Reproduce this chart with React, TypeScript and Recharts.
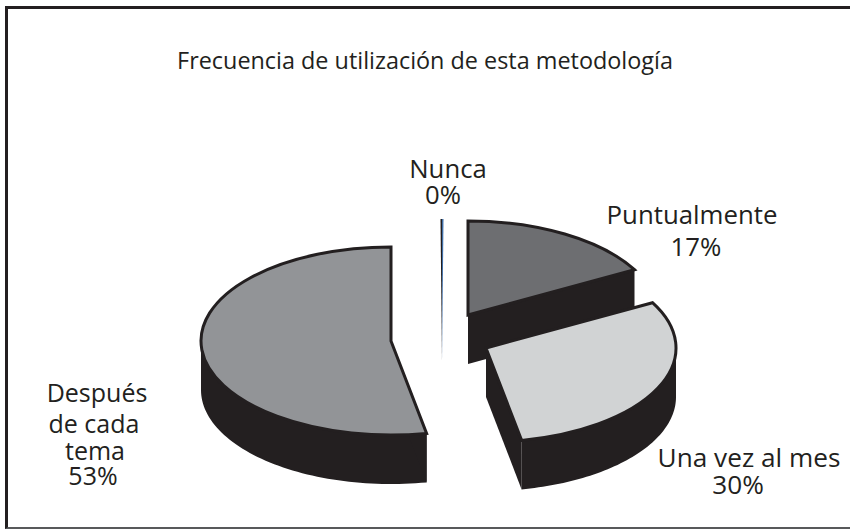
import { Cell, Pie, PieChart } from "recharts";

const categories = ["Puntualmente", "Una vez al mes", "Después de cada tema", "Nunca"];
const values = [17, 30, 53, 0];
const labelLines = [["Puntualmente"], ["Una vez al mes"], ["Después", "de cada", "tema"], ["Nunca"]];
const fills = ["#6d6e71", "#d1d3d4", "#929497", "#231f20"];

const data = categories.map((name, i) => ({ name, value: values[i] }));

const DARK = "#231f20";
const SLIVER_BLUE = "#3f6fa8";
const FONT = '"Open Sans", sans-serif';
const SQUASH = 0.495; // ellipse height / width
const DEPTH = 49;

// how far each slice is pulled out of the pie
const EXPLODE = [
  { dx: 28, dy: -15 },
  { dx: 46, dy: 18 },
  { dx: -49, dy: 11 },
  { dx: 2, dy: -17 },
];
// label block placement, one entry per line, the percent line comes last
const LABEL_POS = [
  { x: [692, 696], y: [224, 256], size: 25.8 },
  { x: [749, 738], y: [467, 494], size: 26.2 },
  { x: [97, 94, 95, 93], y: [402, 433, 460, 485], size: 25 },
  { x: [448, 443], y: [178, 204], size: 25.7 },
];

function Slice3D(props: any) {
  const { cx, cy, outerRadius, startAngle, endAngle, fill, index, name } = props;
  const i = index ?? categories.indexOf(name);
  const off = EXPLODE[i];
  const ox = cx + off.dx;
  const oy = cy + off.dy;
  const rx = outerRadius;
  const ry = outerRadius * SQUASH;
  const pt = (deg: number, drop = 0) => {
    const a = (deg * Math.PI) / 180;
    return [ox + rx * Math.cos(a), oy - ry * Math.sin(a) + drop];
  };

  if (startAngle === endAngle) {
    // 0% slice, only a thin splinter shows
    const [tx, ty] = pt(90);
    return (
      <g>
        <polygon points={`${tx - 1.5},${ty} ${tx},${ty} ${tx},${oy + DEPTH}`} fill={DARK} />
        <polygon points={`${tx},${ty} ${tx + 1.5},${ty} ${tx},${oy + DEPTH}`} fill={SLIVER_BLUE} />
      </g>
    );
  }

  const line = (pts: number[][]) => pts.map((p) => p.join(",")).join(" ");
  const first = pt(startAngle);
  const last = pt(endAngle);
  const shift = (p: number[]) => [p[0], p[1] + DEPTH];
  const large = Math.abs(endAngle - startAngle) > 180 ? 1 : 0;
  const top = `M${ox},${oy} L${first[0]},${first[1]} A${rx},${ry} 0 ${large} 1 ${last[0]},${last[1]} Z`;

  // the outer wall only shows on the front half of the ellipse
  const hi = Math.min(startAngle, 0);
  const lo = Math.max(endAngle, -180);
  const wall: number[][] = [];
  if (hi > lo) {
    const steps = 60;
    for (let s = 0; s <= steps; s++) wall.push(pt(hi + ((lo - hi) * s) / steps));
  }

  return (
    <g>
      {wall.length > 0 && <polygon points={line([...wall, ...wall.map(shift).reverse()])} fill={DARK} />}
      <polygon points={line([[ox, oy], first, shift(first), [ox, oy + DEPTH]])} fill={DARK} />
      <polygon points={line([[ox, oy], last, shift(last), [ox, oy + DEPTH]])} fill={DARK} />
      <path d={top} fill={fill} stroke={DARK} strokeWidth={3} strokeLinejoin="miter" />
    </g>
  );
}

function SliceLabel(props: any) {
  const { index, value } = props;
  const pos = LABEL_POS[index];
  const lines = [...labelLines[index], `${value}%`];
  return (
    <g fontFamily={FONT} fontSize={pos.size} fill={DARK} textAnchor="middle">
      {lines.map((t, j) => (
        <text key={j} x={pos.x[j]} y={pos.y[j]}>
          {t}
        </text>
      ))}
    </g>
  );
}

export default function App() {
  return (
    <div style={{ position: "absolute", left: 0, top: 0, width: 850, height: 530, background: "#fff", overflow: "hidden" }}>
      <div
        style={{
          position: "absolute",
          left: 5,
          top: 6,
          width: 845,
          height: 523,
          boxSizing: "border-box",
          borderTop: "3px solid #231f20",
          borderLeft: "3px solid #231f20",
          borderBottom: "2px solid #58595b",
        }}
      />
      <div style={{ position: "absolute", left: 0, top: 0 }}>
        <PieChart width={850} height={530} margin={{ top: 0, right: 0, bottom: 0, left: 0 }}>
          <text x={425} y={69} textAnchor="middle" fontFamily={FONT} fontSize={23.4} fill={DARK}>
            Frecuencia de utilización de esta metodología
          </text>
          <Pie
            data={data}
            dataKey="value"
            nameKey="name"
            cx={440}
            cy={330}
            outerRadius={190}
            startAngle={90}
            endAngle={-270}
            stroke="none"
            shape={Slice3D}
            label={SliceLabel}
            labelLine={false}
            isAnimationActive={false}
          >
            {data.map((_, i) => (
              <Cell key={i} fill={fills[i]} />
            ))}
          </Pie>
        </PieChart>
      </div>
    </div>
  );
}
